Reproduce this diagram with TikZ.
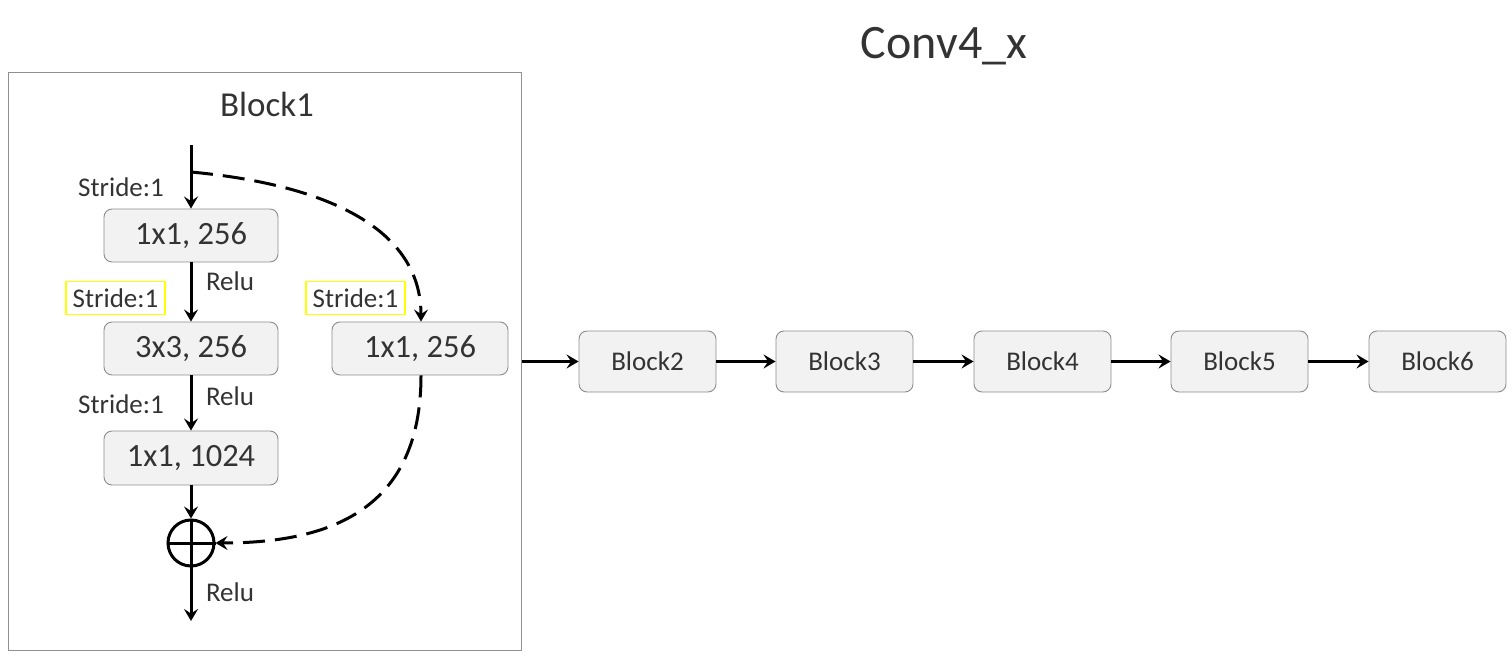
\documentclass[tikz,border=0pt]{standalone}
\usepackage{fontspec}
\setmainfont{Carlito}
\usetikzlibrary{arrows.meta}
\definecolor{txt}{HTML}{333333}
\definecolor{boxfill}{HTML}{F2F2F2}
\definecolor{boxline}{HTML}{8C8C8C}
\definecolor{frameline}{HTML}{909090}
\definecolor{hl}{HTML}{FFFF00}
\tikzset{
  arr/.style={line width=3pt, -{Stealth[length=12pt,width=14pt,inset=4.5pt]}},
  dsh/.style={arr, dash pattern=on 22pt off 10pt},
  convbox/.style={draw=boxline, fill=boxfill, rounded corners=8pt, line width=0.9pt,
     minimum width=174pt, minimum height=53pt, inner sep=0pt, text=txt,
     font=\fontsize{32.5}{36}\selectfont},
  blk/.style={draw=boxline, fill=boxfill, rounded corners=8pt, line width=0.9pt,
     minimum width=137pt, minimum height=61pt, inner sep=0pt, text=txt,
     font=\fontsize{27}{31}\selectfont},
  lbl/.style={text=txt, inner sep=0pt, font=\fontsize{27}{31}\selectfont},
  hlbox/.style={lbl, draw=hl, line width=1.6pt, minimum width=99pt, minimum height=33pt},
}
\begin{document}
\begin{tikzpicture}[x=1pt,y=-1pt]
\useasboundingbox (0,0) rectangle (1512,660);
\node[draw=frameline, line width=1pt, minimum width=513pt, minimum height=577pt, inner sep=0pt] (frame) at (264.5,361.5) {};
\node[text=txt, font=\fontsize{48}{52}\selectfont] (title) at (944,46) {Conv4\_x};
\node[text=txt, font=\fontsize{35}{39}\selectfont] (b1title) at (267,104) {Block1};

\node[convbox] (c1) at (191,235.5) {1x1, 256};
\node[convbox] (c2) at (191,348.5) {3x3, 256};
\node[convbox, minimum height=54pt] (c3) at (191,458) {1x1, 1024};
\node[convbox, minimum width=176pt] (sc) at (420,348.5) {1x1, 256};
\node[circle, draw=black, line width=3pt, minimum size=46pt, inner sep=0pt] (plus) at (191,543) {};
\draw[line width=3pt] (plus.north) -- (plus.south) (plus.west) -- (plus.east);

\coordinate (in) at (191,145);
\coordinate (split) at (191,172);
\coordinate (out) at (191,621);

\draw[line width=3pt] (in) -- (split);
\draw[arr] (split) -- (c1);
\draw[arr] (c1) -- (c2);
\draw[arr] (c2) -- (c3);
\draw[arr] (c3) -- (plus);
\draw[arr] (plus) -- (out);
\draw[dsh] (split) .. controls (330,185) and (421,230) .. (sc.north -| 421,0);
\draw[dsh] (sc.south -| 421,0) .. controls (421,510) and (330,543) .. (plus.east);

\node[lbl] (s1) at (121,187) {Stride:1};
\node[hlbox] (s2) at (115.5,298) {Stride:1};
\node[lbl] (s3) at (121,404) {Stride:1};
\node[hlbox] (s4) at (355.5,298) {Stride:1};
\node[lbl] (r1) at (230,281) {Relu};
\node[lbl] (r2) at (230,396) {Relu};
\node[lbl] (r3) at (230,592) {Relu};

\node[blk] (k2) at (647.5,361.5) {Block2};
\node[blk] (k3) at (844.5,361.5) {Block3};
\node[blk] (k4) at (1042.5,361.5) {Block4};
\node[blk] (k5) at (1239.5,361.5) {Block5};
\node[blk] (k6) at (1437.5,361.5) {Block6};
\draw[arr] (frame.east) -- (k2);
\draw[arr] (k2) -- (k3);
\draw[arr] (k3) -- (k4);
\draw[arr] (k4) -- (k5);
\draw[arr] (k5) -- (k6);
\end{tikzpicture}
\end{document}
